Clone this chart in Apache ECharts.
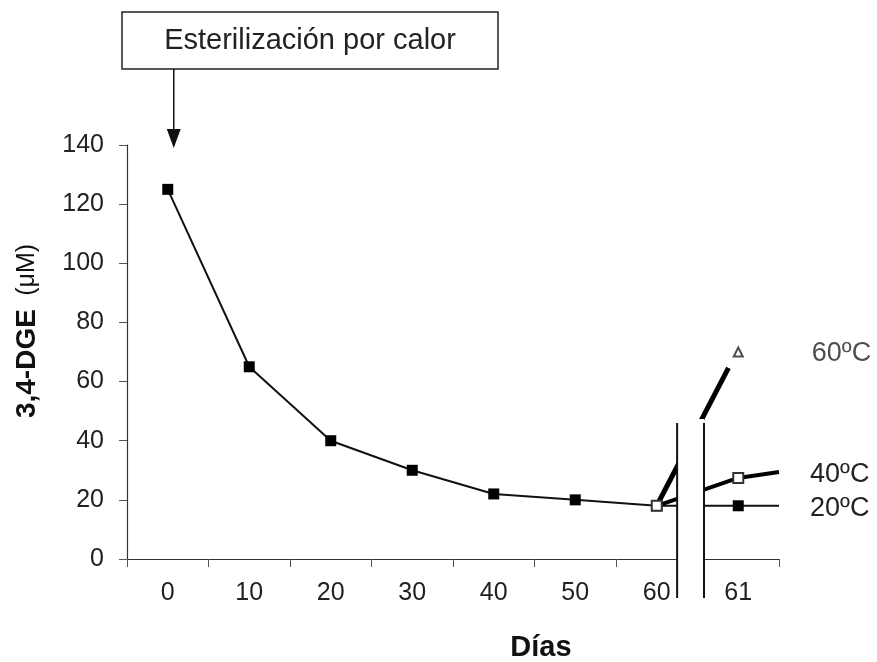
<!DOCTYPE html>
<html>
<head>
<meta charset="utf-8">
<script src="https://cdn.jsdelivr.net/npm/echarts@6/dist/echarts.min.js"></script>
<style>html,body{margin:0;padding:0;background:#fff}#c{width:877px;height:662px}</style>
</head>
<body>
<div id="c"></div>
<script>
// ---- data ----
var categories = ['0', '10', '20', '30', '40', '50', '60', '61'];
var yTicks = [0, 20, 40, 60, 80, 100, 120, 140];
// 20 ºC (filled squares), values per category; last pair = continuation past day 61
var series20 = [125, 65, 40, 30, 22, 20, 18, 18];
var series20Tail = [7.5, 18];
// 40 ºC (open squares): [categoryIndex, value]
var series40 = [[6, 18], [7, 27.4]];
var series40Tail = [7.5, 29.4];
// 60 ºC (open triangle)
var series60Start = [6, 18];
var series60LineEnd = [6.88, 64.6];
var series60Point = [7, 70];
var labels = { t20: '20ºC', t40: '40ºC', t60: '60ºC' };
var annotationText = 'Esterilización por calor';
// axis break (in category-index units / value units)
var breakLeft = 6.25, breakRight = 6.58, breakTop = 46;

var FONT = '"Liberation Sans", Arial, sans-serif';
var chart = echarts.init(document.getElementById('c'));

var d20 = series20.map(function (v, i) { return [i, v]; });
d20.push({ value: series20Tail, symbol: 'none' });
var d40 = series40.slice();
d40.push({ value: series40Tail, symbol: 'none' });

var option = {
  backgroundColor: '#fff',
  animation: false,
  grid: { left: 127, right: 98, top: 145, bottom: 103, containLabel: false, outerBoundsMode: 'none' },
  xAxis: [{
    type: 'category',
    data: categories,
    boundaryGap: true,
    axisLine: { lineStyle: { color: '#333', width: 1.2 } },
    axisTick: { show: true, length: 8, lineStyle: { color: '#555' } },
    axisLabel: { fontFamily: FONT, fontSize: 25, color: '#222', margin: 22 },
    name: 'Días',
    nameLocation: 'middle',
    nameGap: 74,
    nameTextStyle: { fontFamily: FONT, fontSize: 29, fontWeight: 'bold', color: '#111', padding: [0, 0, 0, 176] }
  }, {
    type: 'value', min: -0.5, max: 7.5, show: false
  }],
  yAxis: {
    type: 'value', min: yTicks[0], max: yTicks[yTicks.length - 1], interval: 20,
    splitLine: { show: false },
    axisLine: { show: true, onZero: false, lineStyle: { color: '#333', width: 1.2 } },
    axisTick: { show: true, length: 8, lineStyle: { color: '#555' } },
    axisLabel: { fontFamily: FONT, fontSize: 25, color: '#222', margin: 23 },
    name: '{b|3,4-DGE}{s|   }{n|(μM)}',
    nameLocation: 'middle',
    nameRotate: 90,
    nameGap: 86,
    nameTextStyle: {
      padding: [0, 0, 0, 42],
      rich: {
        b: { fontFamily: FONT, fontSize: 28, fontWeight: 'bold', color: '#111' },
        s: { fontFamily: FONT, fontSize: 16, color: '#111' },
        n: { fontFamily: FONT, fontSize: 25, color: '#111' }
      }
    }
  },
  series: [{
    name: '20', type: 'line', xAxisIndex: 1, data: d20,
    symbol: 'rect', symbolSize: 11,
    itemStyle: { color: '#000' },
    lineStyle: { color: '#111', width: 2 },
    endLabel: { show: true, formatter: labels.t20, fontFamily: FONT, fontSize: 27, color: '#222', distance: 31, offset: [0, 3] },
    z: 3
  }, {
    name: '40', type: 'line', xAxisIndex: 1, data: d40,
    symbol: 'rect', symbolSize: 10,
    itemStyle: { color: '#fff', borderColor: '#333', borderWidth: 2 },
    lineStyle: { color: '#000', width: 4 },
    endLabel: { show: true, formatter: labels.t40, fontFamily: FONT, fontSize: 27, color: '#222', distance: 31, offset: [0, 2] },
    z: 4
  }, {
    name: '60line', type: 'line', xAxisIndex: 1, data: [series60Start, series60LineEnd],
    symbol: 'none',
    lineStyle: { color: '#000', width: 5 },
    z: 2
  }, {
    name: '60', type: 'scatter', xAxisIndex: 1, data: [series60Point],
    symbol: 'triangle', symbolSize: 9,
    itemStyle: { color: '#fff', borderColor: '#222', borderWidth: 2 },
    label: { show: true, position: 'right', distance: 68, offset: [0, 2], formatter: labels.t60, fontFamily: FONT, fontSize: 27, color: '#222' },
    z: 4
  }]
};
chart.setOption(option);

// axis break + annotation (decorations)
var pL = chart.convertToPixel({ xAxisIndex: 1, yAxisIndex: 0 }, [breakLeft, breakTop]);
var pR = chart.convertToPixel({ xAxisIndex: 1, yAxisIndex: 0 }, [breakRight, 0]);
var bottom = pR[1] + 39;
var x0 = chart.convertToPixel({ xAxisIndex: 1 }, 0) + 6;
var topY = chart.convertToPixel({ yAxisIndex: 0 }, 140);

chart.setOption({
  graphic: [
    { type: 'rect', z: 100, shape: { x: pL[0], y: pL[1] - 4, width: pR[0] - pL[0], height: bottom - pL[1] + 6 }, style: { fill: '#fff' } },
    { type: 'line', z: 101, shape: { x1: pL[0], y1: pL[1], x2: pL[0], y2: bottom }, style: { stroke: '#111', lineWidth: 2 } },
    { type: 'line', z: 101, shape: { x1: pR[0], y1: pL[1], x2: pR[0], y2: bottom }, style: { stroke: '#111', lineWidth: 2 } },
    { type: 'rect', z: 100, shape: { x: 122, y: 12, width: 376, height: 57 }, style: { fill: '#fff', stroke: '#222', lineWidth: 1.5 } },
    { type: 'text', z: 101, x: 310, y: 41, style: { text: annotationText, fontFamily: FONT, fontSize: 29, fill: '#222', align: 'center', verticalAlign: 'middle' } },
    { type: 'line', z: 101, shape: { x1: x0, y1: 69, x2: x0, y2: topY - 14 }, style: { stroke: '#111', lineWidth: 1.5 } },
    { type: 'polygon', z: 101, shape: { points: [[x0 - 7, topY - 16], [x0 + 7, topY - 16], [x0, topY + 3]] }, style: { fill: '#111' } }
  ]
});
</script>
</body>
</html>
